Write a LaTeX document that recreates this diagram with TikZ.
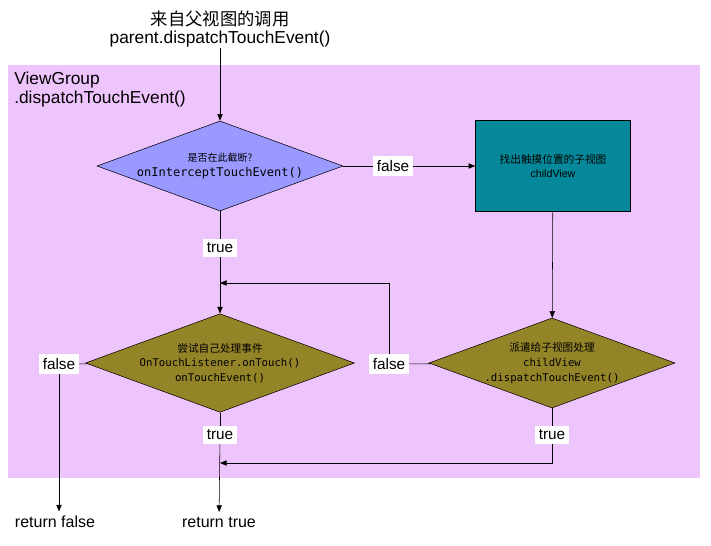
\documentclass[tikz,border=0pt]{standalone}
\usepackage{fontspec}
\setmainfont{Liberation Sans}
\newfontfamily\cjk{Noto Sans CJK SC}
\newfontfamily\mono{DejaVu Sans Mono}
\usetikzlibrary{shapes.geometric, arrows.meta, positioning}
\definecolor{bgpink}{HTML}{EEC4FC}
\definecolor{decblue}{HTML}{9999FF}
\definecolor{decolive}{HTML}{948428}
\definecolor{boxteal}{HTML}{05899A}
\tikzset{
  dec/.style = {diamond, draw, aspect=2.73, minimum width=246pt*0.75, minimum height=90pt*0.75, inner sep=0pt, align=center, font=\fontsize{8}{11}\selectfont},
  lbl/.style = {fill=white, inner sep=3pt, font=\fontsize{11.5}{12}\selectfont},
  flow/.style = {-{Triangle[length=5pt,width=4pt]}},
}
\begin{document}
\begin{tikzpicture}[x=0.75pt, y=-0.75pt]
  \useasboundingbox (0,0) rectangle (711,546);
  % 背景
  \fill[bgpink] (8,65) rectangle (700,478);
  \node[anchor=north west, align=left, font=\fontsize{13}{14}\selectfont, inner sep=0pt] (vg) at (14,72) {ViewGroup\\.dispatchTouchEvent()};
  \node[align=center, font=\fontsize{13}{14}\selectfont, inner sep=0pt] (src) at (220,29) {{\cjk 来自父视图的调用}\\parent.dispatchTouchEvent()};

  % 判断
  \node[dec, fill=decblue] (icpt) at (220,166) {{\cjk\fontsize{7.5}{9}\selectfont 是否在此截断?}\\{\mono\fontsize{9}{11}\selectfont onInterceptTouchEvent()}};
  \node[draw, fill=boxteal, minimum width=155pt*0.75, minimum height=91pt*0.75, align=center, font=\fontsize{8}{10}\selectfont] (find) at (553,166) {{\cjk 找出触摸位置的子视图}\\childView};
  \node[dec, fill=decolive] (self) at (220,363) {{\cjk 尝试自己处理事件}\\{\mono OnTouchListener.onTouch()}\\{\mono onTouchEvent()}};
  \node[dec, fill=decolive] (child) at (552,363) {{\cjk 派遣给子视图处理}\\{\mono childView}\\{\mono .dispatchTouchEvent()}};

  % 标签
  \node[lbl] (f1) at (393,166) {false};
  \node[lbl] (t1) at (220,248) {true};
  \node[lbl] (f2) at (59,364) {false};
  \node[lbl] (f3) at (389,364) {false};
  \node[lbl] (t2) at (220,435) {true};
  \node[lbl] (t3) at (552,435) {true};
  \node[font=\fontsize{12}{13}\selectfont] (rf) at (55,522) {return false};
  \node[font=\fontsize{12}{13}\selectfont] (rt) at (219,522) {return true};

  \coordinate (up) at (378,283);
  \coordinate (in1) at (220,283);
  \coordinate (dn) at (552,463);
  \coordinate (in2) at (220,463);

  % 连线
  \draw[flow] (src) -- (icpt);
  \draw (icpt) -- (f1);
  \draw[flow] (f1) -- (find);
  \draw (icpt) -- (t1);
  \draw[flow] (t1) -- (self);
  \draw[flow] (find) -- (child);
  \draw (self) -- (f2);
  \draw[flow] (f2) -- (f2 |- rf.north);
  \draw (child) -- (f3);
  \draw[flow] (f3) |- (in1);
  \draw (self) -- (t2);
  \draw[flow] (t2) -- (rt);
  \draw (child) -- (t3);
  \draw[flow] (t3) |- (in2);
\end{tikzpicture}
\end{document}
